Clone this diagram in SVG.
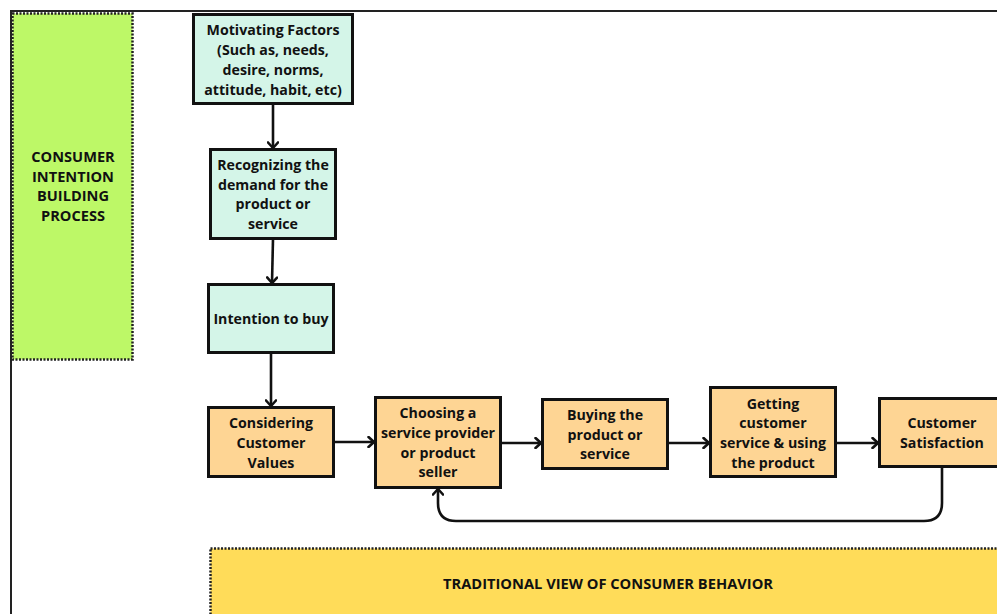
<svg xmlns="http://www.w3.org/2000/svg" width="997" height="614" viewBox="0 0 997 614">
<style>
.t{font-family:"Open Sans","Noto Sans",sans-serif;font-weight:700;font-size:14.2px;fill:#111;text-anchor:middle}
.band{font-family:"Open Sans","Noto Sans",sans-serif;font-weight:700;font-size:14.6px;fill:#111;text-anchor:middle}
.teal{fill:#d4f5e8;stroke:#111;stroke-width:3}
.org{fill:#fed594;stroke:#111;stroke-width:3}
.c{fill:none;stroke:#111;stroke-width:2.6}
</style>
<defs>
<marker id="ah" viewBox="0 0 12 12" refX="10.5" refY="6" markerWidth="12" markerHeight="12" orient="auto" markerUnits="userSpaceOnUse">
<path d="M5,1 L10.5,6 L5,11" fill="none" stroke="#111" stroke-width="2.6" stroke-linecap="round" stroke-linejoin="round"/>
</marker>
</defs>
<rect width="997" height="614" fill="#fff"/>
<g id="frame"><path d="M11,614 V11 H997" fill="none" stroke="#222" stroke-width="2"/></g>
<g id="intention-band">
<rect x="12.5" y="13.5" width="120" height="346" fill="#bdf867" stroke="#222" stroke-width="2.5" stroke-dasharray="2 1.5"/>
<text class="band" x="73" y="162">CONSUMER</text>
<text class="band" x="73" y="182">INTENTION</text>
<text class="band" x="73" y="201">BUILDING</text>
<text class="band" x="73" y="221">PROCESS</text>
</g>
<g id="traditional-band">
<rect x="210.5" y="548.5" width="800" height="80" fill="#ffdc59" stroke="#222" stroke-width="2.5" stroke-dasharray="2 1.5"/>
<text class="band" x="608" y="589" textLength="330" lengthAdjust="spacingAndGlyphs">TRADITIONAL VIEW OF CONSUMER BEHAVIOR</text>
</g>
<g id="connectors">
<path class="c" d="M273,104 V148" marker-end="url(#ah)"/>
<path class="c" d="M273,239 L272,283" marker-end="url(#ah)"/>
<path class="c" d="M271,353 V406" marker-end="url(#ah)"/>
<path class="c" d="M334,442 H374" marker-end="url(#ah)"/>
<path class="c" d="M501,443 H541" marker-end="url(#ah)"/>
<path class="c" d="M668,443 H709" marker-end="url(#ah)"/>
<path class="c" d="M836,443 H878" marker-end="url(#ah)"/>
<path class="c" d="M942,467 V503 Q942,521 924,521 H456 Q438,521 438,503 V489" marker-end="url(#ah)"/>
</g>
<g id="motivating">
<rect class="teal" x="193.5" y="14.5" width="159" height="89"/>
<text class="t" x="273" y="35">Motivating Factors</text>
<text class="t" x="273" y="55">(Such as, needs,</text>
<text class="t" x="273" y="75">desire, norms,</text>
<text class="t" x="273" y="95">attitude, habit, etc)</text>
</g>
<g id="recognizing">
<rect class="teal" x="210.5" y="149.5" width="125" height="89"/>
<text class="t" x="273" y="170">Recognizing the</text>
<text class="t" x="273" y="190">demand for the</text>
<text class="t" x="273" y="209">product or</text>
<text class="t" x="273" y="229">service</text>
</g>
<g id="intention">
<rect class="teal" x="208.5" y="284.5" width="125" height="68"/>
<text class="t" x="271" y="324">Intention to buy</text>
</g>
<g id="considering">
<rect class="org" x="208.5" y="407.5" width="125" height="69"/>
<text class="t" x="271" y="428">Considering</text>
<text class="t" x="271" y="448">Customer</text>
<text class="t" x="271" y="468">Values</text>
</g>
<g id="choosing">
<rect class="org" x="375.5" y="397.5" width="125" height="90"/>
<text class="t" x="438" y="418">Choosing a</text>
<text class="t" x="438" y="438">service provider</text>
<text class="t" x="438" y="458">or product</text>
<text class="t" x="438" y="477">seller</text>
</g>
<g id="buying">
<rect class="org" x="542.5" y="399.5" width="125" height="69"/>
<text class="t" x="605" y="420">Buying the</text>
<text class="t" x="605" y="440">product or</text>
<text class="t" x="605" y="459">service</text>
</g>
<g id="getting">
<rect class="org" x="710.5" y="387.5" width="125" height="89"/>
<text class="t" x="773" y="409">Getting</text>
<text class="t" x="773" y="428">customer</text>
<text class="t" x="773" y="448">service &amp; using</text>
<text class="t" x="773" y="468">the product</text>
</g>
<g id="satisfaction">
<rect class="org" x="879.5" y="398.5" width="125" height="68"/>
<text class="t" x="942" y="428">Customer</text>
<text class="t" x="942" y="448">Satisfaction</text>
</g>
</svg>
